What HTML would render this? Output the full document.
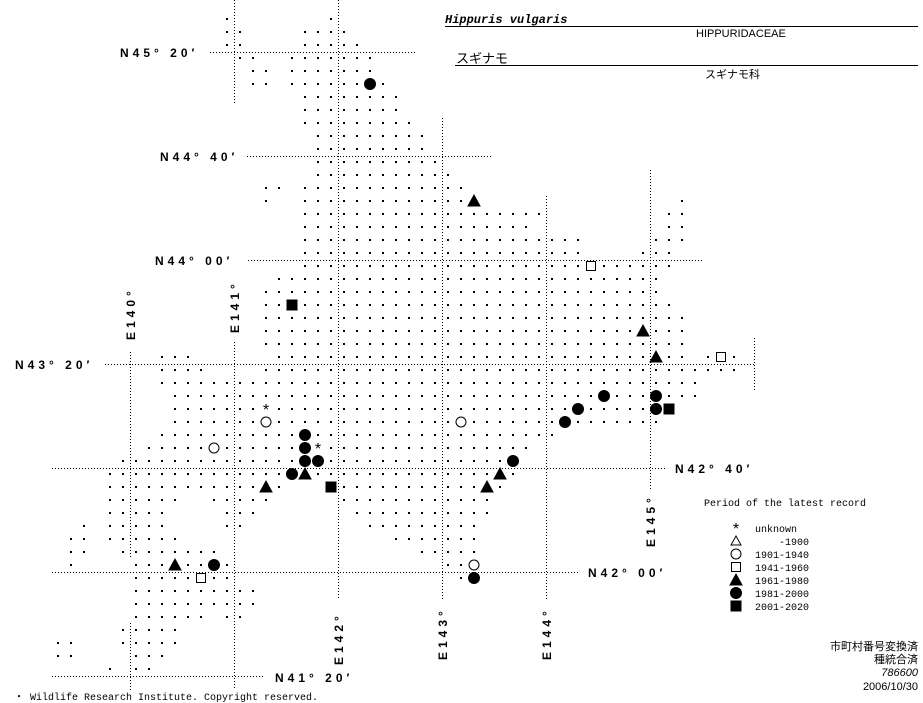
<!DOCTYPE html>
<html><head><meta charset="utf-8">
<style>
html,body{margin:0;padding:0;background:#fff;}
body{width:923px;height:703px;overflow:hidden;position:relative;}
svg{position:absolute;left:0;top:0;}
.lab{font-family:"Liberation Sans",sans-serif;font-weight:bold;font-size:12px;letter-spacing:4px;}
.mono{font-family:"Liberation Mono",monospace;font-size:10px;}
.sm{font-family:"Liberation Sans","Noto Sans CJK JP",sans-serif;font-size:11px;}
</style></head><body>
<svg id="s" width="923" height="703" xmlns="http://www.w3.org/2000/svg">
<g stroke="#000" stroke-width="1" stroke-dasharray="1,2" fill="none">
<line x1="210" y1="52.5" x2="417" y2="52.5"/>
<line x1="247" y1="156.5" x2="493" y2="156.5"/>
<line x1="248" y1="260.5" x2="702" y2="260.5"/>
<line x1="105" y1="364.5" x2="755" y2="364.5"/>
<line x1="52" y1="468.5" x2="665" y2="468.5"/>
<line x1="52" y1="572.5" x2="580" y2="572.5"/>
<line x1="52" y1="676.5" x2="265" y2="676.5"/>
<line x1="234.5" y1="0" x2="234.5" y2="104"/>
<line x1="234.5" y1="342" x2="234.5" y2="690"/>
<line x1="130.5" y1="352" x2="130.5" y2="558"/>
<line x1="130.5" y1="623" x2="130.5" y2="690"/>
<line x1="338.5" y1="0" x2="338.5" y2="600"/>
<line x1="442.5" y1="118" x2="442.5" y2="600"/>
<line x1="546.5" y1="196" x2="546.5" y2="600"/>
<line x1="650.5" y1="170" x2="650.5" y2="490"/>
<line x1="754.5" y1="338" x2="754.5" y2="390"/>
</g>
<g id="dots" fill="#000"></g>
<g id="mk" fill="#000" stroke="#000"></g>
<g class="lab" fill="#000">
<text x="120" y="57">N45° 20′</text>
<text x="160" y="161">N44° 40′</text>
<text x="155" y="265">N44° 00′</text>
<text x="15" y="369">N43° 20′</text>
<text x="675" y="473">N42° 40′</text>
<text x="588" y="577">N42° 00′</text>
<text x="275" y="682">N41° 20′</text>
<text transform="translate(135,340) rotate(-90)">E140°</text>
<text transform="translate(239,333) rotate(-90)">E141°</text>
<text transform="translate(343,665) rotate(-90)">E142°</text>
<text transform="translate(447,660) rotate(-90)">E143°</text>
<text transform="translate(551,660) rotate(-90)">E144°</text>
<text transform="translate(655,547) rotate(-90)">E145°</text>
</g>
<text x="445" y="23" font-family="Liberation Mono,monospace" font-size="12" font-weight="bold" font-style="italic">Hippuris vulgaris</text>
<line x1="445" y1="26.5" x2="918" y2="26.5" stroke="#000"/>
<text x="696" y="37" class="sm">HIPPURIDACEAE</text>
<text x="456" y="63" font-family="Noto Sans CJK JP,sans-serif" font-size="13">スギナモ</text>
<line x1="455" y1="65.5" x2="918" y2="65.5" stroke="#000"/>
<text x="705" y="78" class="sm">スギナモ科</text>
<g class="mono" fill="#000">
<text x="704" y="506">Period of the latest record</text>
<text x="755" y="532">unknown</text>
<text x="779" y="545">-1900</text>
<text x="755" y="558">1901-1940</text>
<text x="755" y="571">1941-1960</text>
<text x="755" y="584">1961-1980</text>
<text x="755" y="597">1981-2000</text>
<text x="755" y="610">2001-2020</text>
<text x="14" y="700">・ Wildlife Research Institute. Copyright reserved.</text>
</g>
<g class="sm" fill="#000" text-anchor="end">
<text x="918" y="650">市町村番号変換済</text>
<text x="918" y="663">種統合済</text>
<text x="918" y="676" font-style="italic">786600</text>
<text x="918" y="690">2006/10/30</text>
</g>
<g id="leg" fill="#000" stroke="#000"></g>
</svg>
<script>
var NS="http://www.w3.org/2000/svg";
var rows={1:[[17,17],[25,25]],2:[[17,18],[23,26]],3:[[17,18],[23,27]],4:[[18,19],[22,28]],5:[[19,20],[22,28]],6:[[19,20],[22,29]],7:[[23,30]],8:[[23,30]],9:[[23,31]],10:[[24,32]],11:[[24,32]],12:[[24,33]],13:[[24,34]],14:[[20,21],[23,35]],15:[[20,20],[23,36],[52,52]],16:[[23,41],[51,52]],17:[[23,40],[51,52]],18:[[23,44],[50,52]],19:[[23,44],[49,51]],20:[[23,51]],21:[[21,50]],22:[[20,50]],23:[[20,51]],24:[[20,52]],25:[[20,52]],26:[[20,52]],27:[[12,14],[21,52],[54,56]],28:[[12,15],[20,56]],29:[[12,53]],30:[[13,53]],31:[[13,51]],32:[[13,50]],33:[[12,42]],34:[[11,40]],35:[[9,39]],36:[[8,39]],37:[[8,21],[25,38]],38:[[8,13],[16,20],[26,37]],39:[[8,12],[17,19],[27,37]],40:[[6,6],[8,12],[17,18],[28,36]],41:[[5,6],[8,13],[30,36]],42:[[5,6],[9,16],[32,36]],43:[[5,5],[10,17],[34,36]],44:[[10,17],[35,36]],45:[[10,19]],46:[[10,19]],47:[[10,15],[17,18]],48:[[9,13]],49:[[4,5],[9,13]],50:[[4,5],[10,12]],51:[[8,8],[10,11]]};
var mk=[["F",28,6],["T",36,15],["S",45,20],["Q",22,23],["T",49,25],["T",50,27],["S",55,27],["F",46,30],["F",50,30],["A",20,31],["F",44,31],["F",50,31],["Q",51,31],["O",20,32],["O",35,32],["F",43,32],["F",23,33],["O",16,34],["F",23,34],["A",24,34],["F",23,35],["F",24,35],["F",39,35],["F",22,36],["T",23,36],["T",38,36],["T",20,37],["Q",25,37],["T",37,37],["T",13,43],["F",16,43],["S",15,44],["O",36,43],["F",36,44]];
var occ={};mk.forEach(function(m){occ[m[1]+","+m[2]]=1;});
var d="";
for(var j in rows){rows[j].forEach(function(r){for(var i=r[0];i<=r[1];i++){if(occ[i+","+j])continue;var x=6+13*i,y=6+13*j;d+="M"+(x-1)+" "+(y-1)+"h2v2h-2z";}});}
var p=document.createElementNS(NS,"path");p.setAttribute("d",d);document.getElementById("dots").appendChild(p);
function draw(g,t,x,y){var e;
if(t=="F"){e=document.createElementNS(NS,"circle");e.setAttribute("cx",x);e.setAttribute("cy",y);e.setAttribute("r",5.5);}
else if(t=="O"){e=document.createElementNS(NS,"circle");e.setAttribute("cx",x);e.setAttribute("cy",y);e.setAttribute("r",5);e.setAttribute("fill","#fff");}
else if(t=="T"){e=document.createElementNS(NS,"polygon");e.setAttribute("points",(x-6)+","+(y+5)+" "+(x+6)+","+(y+5)+" "+x+","+(y-6));}
else if(t=="W"){e=document.createElementNS(NS,"polygon");e.setAttribute("points",(x-5)+","+(y+4)+" "+(x+5)+","+(y+4)+" "+x+","+(y-5));e.setAttribute("fill","#fff");}
else if(t=="S"){e=document.createElementNS(NS,"rect");e.setAttribute("x",x-4.5);e.setAttribute("y",y-4.5);e.setAttribute("width",9);e.setAttribute("height",9);e.setAttribute("fill","#fff");}
else if(t=="Q"){e=document.createElementNS(NS,"rect");e.setAttribute("x",x-5);e.setAttribute("y",y-5);e.setAttribute("width",10);e.setAttribute("height",10);}
else if(t=="A"){e=document.createElementNS(NS,"text");e.setAttribute("x",x);e.setAttribute("y",y+6);e.setAttribute("text-anchor","middle");e.setAttribute("font-family","Liberation Sans,sans-serif");e.setAttribute("font-size","16");e.setAttribute("stroke","none");e.textContent="*";}
g.appendChild(e);}
var g=document.getElementById("mk");
mk.forEach(function(m){draw(g,m[0],6+13*m[1],6+13*m[2]);});
var lg=document.getElementById("leg");
[["A",528],["W",541],["O",554],["S",567],["T",580],["F",593],["Q",606]].forEach(function(m){draw(lg,m[0],736,m[1]);});
</script>
</body></html>
